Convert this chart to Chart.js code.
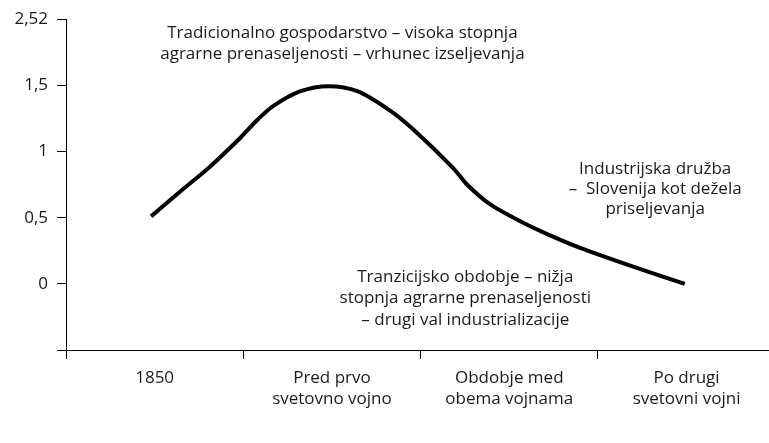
<!DOCTYPE html>
<html><head><meta charset="utf-8">
<script src="https://cdn.jsdelivr.net/npm/chart.js@4/dist/chart.umd.min.js"></script>
<style>html,body{margin:0;padding:0;background:#fff}#wrap{width:769px;height:443px}</style>
</head><body><div id="wrap"><canvas id="c" width="769" height="443"></canvas></div>
<script>
// Categories (x axis labels at positions 0..3)
const categories = [["1850"], ["Pred prvo", "svetovno vojno"], ["Obdobje med", "obema vojnama"], ["Po drugi", "svetovni vojni"]];
// Curve (x in category units, y in axis units)
const curveX = [-0.02, 0.146, 0.299, 0.411, 0.485, 0.580, 0.670, 0.823, 0.980, 1.144, 1.330, 1.459, 1.684, 1.763, 1.893, 2.062, 2.214, 2.400, 2.699, 2.99];
const curveY = [0.51, 0.70, 0.87, 1.01, 1.106, 1.240, 1.345, 1.456, 1.494, 1.456, 1.307, 1.166, 0.875, 0.749, 0.600, 0.473, 0.376, 0.272, 0.130, 0.0];
// Y tick values and their labels
const yTicks = [-0.5, 0, 0.5, 1, 1.5, 2];
const yTickLabels = ["", "0", "0,5", "1", "1,5", "2,52"];
// Annotation texts
const noteTraditional = ["Tradicionalno gospodarstvo – visoka stopnja", "agrarne prenaseljenosti – vrhunec izseljevanja"];
const noteIndustrial = ["Industrijska družba", "–  Slovenija kot dežela", "priseljevanja"];
const noteTransition = ["Tranzicijsko obdobje – nižja", "stopnja agrarne prenaseljenosti", "– drugi val industrializacije"];

const FONT = "'Open Sans', 'Noto Sans', sans-serif";
const TEXT = '#1a1a1a';

const notesPlugin = {
  id: 'notes',
  afterDatasetsDraw(chart) {
    const {ctx, scales: {x, y}} = chart;
    ctx.save();
    ctx.font = '17px ' + FONT;
    ctx.fillStyle = TEXT;
    ctx.textAlign = 'center';
    ctx.textBaseline = 'middle';
    const put = (lines, xc, ys) => lines.forEach((t, i) => ctx.fillText(t, x.getPixelForValue(xc), y.getPixelForValue(ys[i])));
    put(noteTraditional, 1.059, [1.895, 1.738]);
    put(noteIndustrial, 2.823, [0.868, 0.712, 0.563]);
    put(noteTransition, 1.752, [0.049, -0.107, -0.271]);
    ctx.restore();
  }
};

new Chart(document.getElementById('c'), {
  type: 'line',
  data: {
    datasets: [{
      data: curveX.map((v, i) => ({x: v, y: curveY[i]})),
      borderColor: '#000',
      borderWidth: 4,
      pointRadius: 0,
      fill: false,
      tension: 0.3,
      borderCapStyle: 'butt'
    }]
  },
  options: {
    responsive: false,
    animation: false,
    devicePixelRatio: 1,
    layout: {padding: {top: 15, right: 0, left: 0, bottom: 0}},
    plugins: {legend: {display: false}, tooltip: {enabled: false}},
    scales: {
      x: {
        type: 'linear',
        min: -0.5,
        max: 3.465,
        afterBuildTicks: s => { s.ticks = [-0.5, 0, 0.5, 1, 1.5, 2, 2.5, 3].map(v => ({value: v})); },
        afterFit: s => { s.height = 93; },
        ticks: {
          autoSkip: false, maxRotation: 0, minRotation: 0, padding: 9,
          color: TEXT,
          font: {family: FONT, size: 17, lineHeight: 1.24},
          callback: v => Number.isInteger(v) ? categories[v] : ''
        },
        grid: {
          drawOnChartArea: false, tickLength: 9, lineWidth: 1,
          color: c => (c.tick && !Number.isInteger(c.tick.value)) ? '#000' : 'rgba(0,0,0,0)'
        },
        border: {display: true, color: '#000', width: 1}
      },
      y: {
        type: 'linear',
        min: -0.5,
        max: 2,
        afterBuildTicks: s => { s.ticks = yTicks.map(v => ({value: v})); },
        afterFit: s => { s.width = 66; },
        ticks: {
          padding: 9,
          color: TEXT,
          font: {family: FONT, size: 17, lineHeight: 1.2},
          callback: v => yTickLabels[yTicks.indexOf(v)]
        },
        grid: {drawOnChartArea: false, tickLength: 9, lineWidth: 1, color: '#000'},
        border: {display: true, color: '#000', width: 1}
      }
    }
  },
  plugins: [notesPlugin]
});
</script>
</body></html>
